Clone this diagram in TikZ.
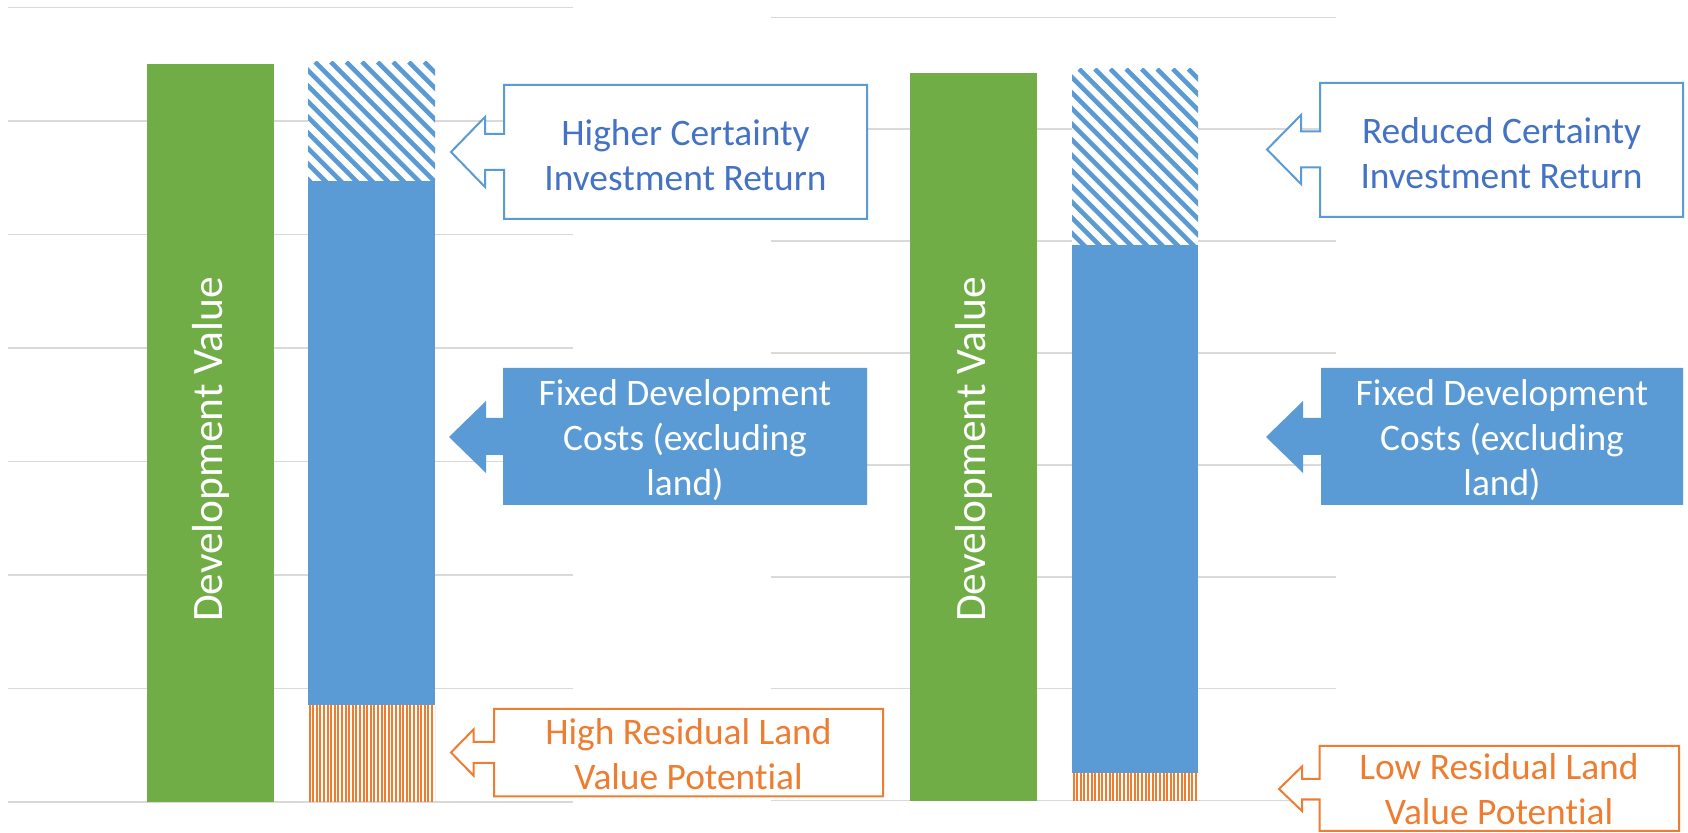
\documentclass[tikz,border=0pt]{standalone}
\usepackage{fontspec}
\setmainfont{Carlito}[Ligatures=NoCommon]
\definecolor{cgreen}{HTML}{70AD47}
\definecolor{cblue}{HTML}{5B9BD5}
\definecolor{ctextblue}{HTML}{4472C4}
\definecolor{corange}{HTML}{ED7D31}
\definecolor{cgrid}{HTML}{D9D9D9}
\tikzset{
  gridline/.style={draw=cgrid, line width=0.75pt},
  bluecall/.style={draw=cblue, line width=1pt, fill=white, line join=miter},
  orangecall/.style={draw=corange, line width=1pt, fill=white, line join=miter},
  fixedcall/.style={fill=cblue, draw=none},
  calltext/.style={align=center, font=\fontsize{18.7}{22.4}\selectfont, inner sep=0pt},
  devtext/.style={rotate=90, text=white, font=\fontsize{21.7}{25}\selectfont, inner sep=0pt},
}
\begin{document}
\begin{tikzpicture}[x=0.5pt,y=-0.5pt]
\useasboundingbox (0,0) rectangle (1688,833);
\fill[white] (0,0) rectangle (1688,833);
% gridlines left chart
\foreach \k in {0,...,7} {
  \draw[gridline] (8,{7.3+\k*113.5}) -- (573,{7.3+\k*113.5});
}
% gridlines right chart
\foreach \k in {0,...,7} {
  \draw[gridline] (771,{17.3+\k*111.9}) -- (1336,{17.3+\k*111.9});
}
% ---------- left chart bars
\fill[cgreen] (147,64) rectangle (274,802);
\node[devtext] (dv1) at (210.5,449.5) {Development Value};
\fill[white] (308,62) rectangle (435,181);
\begin{scope}
  \clip (308,62) rectangle (435,181);
  \foreach \i in {0,...,20} {
    \draw[cblue, line width=2.3pt] ({308-180+\i*15.6},62) -- ++(200,200);
  }
\end{scope}
\fill[cblue] (308,181) rectangle (435,705.5);
\begin{scope}
  \clip (308,705.5) rectangle (435,802);
  \foreach \i in {0,...,35} {
    \draw[corange, line width=1pt] ({309.5+\i*3.6},705.5) -- ++(0,97);
  }
\end{scope}
% ---------- right chart bars
\fill[cgreen] (910,73) rectangle (1037,801);
\node[devtext] (dv2) at (973.5,449.5) {Development Value};
\fill[white] (1072,69) rectangle (1198,245);
\begin{scope}
  \clip (1072,69) rectangle (1198,245);
  \foreach \i in {0,...,22} {
    \draw[cblue, line width=2.3pt] ({1072-180+\i*15.6},69) -- ++(260,260);
  }
\end{scope}
\fill[cblue] (1072,245) rectangle (1198,772.7);
\begin{scope}
  \clip (1072,772.7) rectangle (1198,801);
  \foreach \i in {0,...,35} {
    \draw[corange, line width=1pt] ({1073.5+\i*3.6},772.7) -- ++(0,30);
  }
\end{scope}
% ---------- callouts left
\draw[bluecall] (451,152) -- (485,117) -- (485,134) -- (504,134) -- (504,85) -- (867,85)
  -- (867,219) -- (504,219) -- (504,170) -- (485,170) -- (485,187) -- cycle;
\node[calltext, text=ctextblue] (hc) at (685.5,155) {Higher Certainty\\Investment Return};
\fill[fixedcall] (449,437) -- (486,401) -- (486,418) -- (503,418) -- (503,368) -- (867,368)
  -- (867,505) -- (503,505) -- (503,455) -- (486,455) -- (486,473) -- cycle;
\node[calltext, text=white] (fc1) at (685,440) {Fixed Development\\Costs (excluding\\land)};
\draw[orangecall] (451,752.5) -- (473.5,729.5) -- (473.5,742) -- (494,742) -- (494,709) -- (883,709)
  -- (883,796.5) -- (494,796.5) -- (494,763) -- (473.5,763) -- (473.5,775.5) -- cycle;
\node[calltext, text=corange] (hr) at (688.5,754) {High Residual Land\\Value Potential};
% ---------- callouts right
\draw[bluecall] (1267,149.5) -- (1301,115) -- (1301,131.5) -- (1320,131.5) -- (1320,83) -- (1683,83)
  -- (1683,217) -- (1320,217) -- (1320,167.5) -- (1301,167.5) -- (1301,184) -- cycle;
\node[calltext, text=ctextblue] (rc) at (1501.5,153) {Reduced Certainty\\Investment Return};
\fill[fixedcall] (1266,437) -- (1303,401) -- (1303,418) -- (1321,418) -- (1321,368) -- (1683,368)
  -- (1683,505) -- (1321,505) -- (1321,455) -- (1303,455) -- (1303,473) -- cycle;
\node[calltext, text=white] (fc2) at (1502,440) {Fixed Development\\Costs (excluding\\land)};
\draw[orangecall] (1279,789) -- (1302,766.5) -- (1302,779) -- (1319.5,779) -- (1319.5,746) -- (1679,746)
  -- (1679,831) -- (1319.5,831) -- (1319.5,799.5) -- (1302,799.5) -- (1302,811) -- cycle;
\node[calltext, text=corange] (lr) at (1499,789.5) {Low Residual Land\\Value Potential};
\end{tikzpicture}
\end{document}
